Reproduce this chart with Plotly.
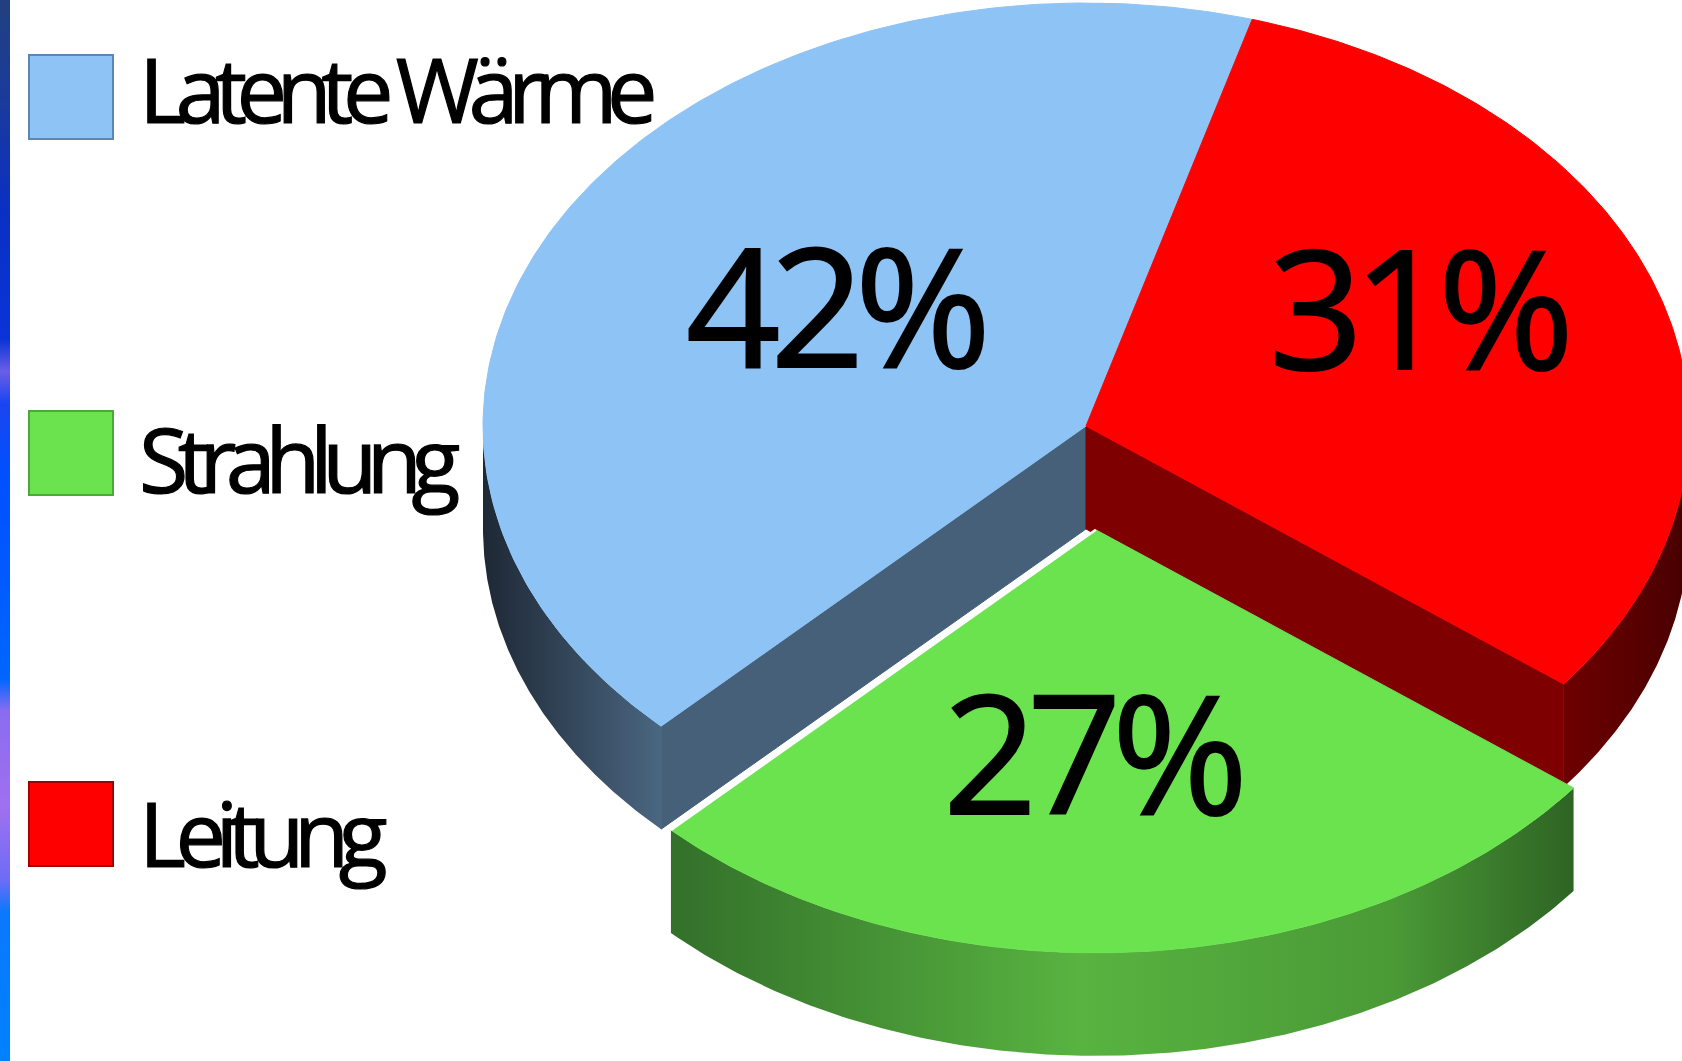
import numpy as np
import plotly.graph_objects as go

# ---- data -------------------------------------------------------------
categories = ["Latente Wärme", "Strahlung", "Leitung"]
shares = [42, 27, 31]                      # percent
pct_labels = [f"{v}%" for v in shares]

# ---- styling ------------------------------------------------------------
top_colors = ["#8EC3F5", "#6BE34F", "#FF0000"]
face_colors = ["#46607A", "#3E7A2E", "#7F0000"]          # flat radial cut faces
wall_scales = [
    [[0, "#1E2835"], [1, "#4A6681"]],
    [[0, "#33702A"], [0.45, "#58B340"], [0.8, "#4A9A36"], [1, "#2E6424"]],
    [[0, "#6E0000"], [1, "#480000"]],
]
legend_box_lines = ["#5A88B2", "#4CA83A", "#A00000"]
explode = [0.0, 0.246, 0.0]
label_nudge = [(9, -16), (-24, 9), (46, -55)]

W, H = 1682, 1061
CX, CY = 1086, 426          # centre of the top ellipse (px)
RX, RY = 603, 423           # ellipse half axes (px)
DEPTH = 103                 # thickness of the disc (px)
START = 74.0                # angle of the first slice edge, counter-clockwise

legend_rows = [91, 461, 835]   # vertical centre of each legend row
legend_box_y = [97, 453, 824]
LEGEND_BOX_X = 71
LEGEND_TEXT_X = 137

LABEL_STYLE = "letter-spacing:-10px;stroke:black;stroke-width:2px"
LEGEND_STYLE = "letter-spacing:-10.5px;stroke:black;stroke-width:1.2px"

# ---- geometry ---------------------------------------------------------
total = float(sum(shares))
spans = [360.0 * v / total for v in shares]
edges = START + np.concatenate([[0.0], np.cumsum(spans)])


def rim(theta_deg, ox, oy, dz=0.0):
    t = np.radians(theta_deg)
    return ox + RX * np.cos(t), oy - RY * np.sin(t) + dz


def arc(t0, t1, ox, oy, dz=0.0, n=200):
    th = np.linspace(t0, t1, n)
    return rim(th, ox, oy, dz)


slices = []
for i in range(len(shares)):
    t0, t1 = edges[i], edges[i + 1]
    mid = 0.5 * (t0 + t1)
    m = np.radians(mid)
    ox = CX + RX * explode[i] * np.cos(m)
    oy = CY - RY * explode[i] * np.sin(m)
    slices.append(dict(t0=t0, t1=t1, mid=mid, ox=ox, oy=oy))

fig = go.Figure()


def poly(xs, ys, color=None, scale=None, orient="horizontal", start=None, stop=None):
    kw = dict(x=list(xs), y=list(ys), mode="lines", fill="toself",
              hoverinfo="skip", showlegend=False)
    if scale is not None:
        kw["fillgradient"] = dict(type=orient, colorscale=scale,
                                  start=start, stop=stop)
        kw["line"] = dict(width=0, color="rgba(0,0,0,0)")
    else:
        kw["fillcolor"] = color
        kw["line"] = dict(width=1, color=color)
    fig.add_trace(go.Scatter(**kw))


def visible_wall(t0, t1):
    """Part of [t0, t1] on the front half of the ellipse."""
    out = []
    for lo, hi in [(180, 360), (540, 720)]:
        a, b = max(t0, lo), min(t1, hi)
        if b > a:
            out.append((a, b))
    return out


def draw_sides(idx):
    s = slices[idx]
    # radial cut faces that are exposed towards the viewer
    n = len(slices)
    for t, normal, nb in [(s["t0"], s["t0"] - 90, (idx - 1) % n),
                          (s["t1"], s["t1"] + 90, (idx + 1) % n)]:
        if np.sin(np.radians(normal)) >= 0:
            continue
        if explode[nb] == explode[idx]:
            continue
        ex, ey = rim(t, s["ox"], s["oy"])
        xs = [s["ox"], ex, ex, s["ox"], s["ox"]]
        ys = [s["oy"], ey, ey + DEPTH, s["oy"] + DEPTH, s["oy"]]
        poly(xs, ys, color=face_colors[idx])
    # outer curved wall
    for a, b in visible_wall(s["t0"], s["t1"]):
        xt, yt = arc(a, b, s["ox"], s["oy"])
        xb, yb = arc(b, a, s["ox"], s["oy"], DEPTH)
        xs = np.concatenate([xt, xb, xt[:1]])
        ys = np.concatenate([yt, yb, yt[:1]])
        poly(xs, ys, scale=wall_scales[idx], start=float(xs.min()),
             stop=float(xs.max()))


def draw_top(idx):
    s = slices[idx]
    xa, ya = arc(s["t0"], s["t1"], s["ox"], s["oy"])
    xs = np.concatenate([[s["ox"]], xa, [s["ox"]]])
    ys = np.concatenate([[s["oy"]], ya, [s["oy"]]])
    poly(xs, ys, color=top_colors[idx])


# decorative gradient strip on the left edge
strip_scale = [
    [0.00, "#22407E"], [0.10, "#1A3A9E"], [0.20, "#0A2FC4"], [0.32, "#0A34D8"],
    [0.35, "#6A5EE8"], [0.38, "#1A45F0"], [0.45, "#0050FF"], [0.64, "#0066FF"],
    [0.67, "#8A6CF0"], [0.76, "#A070F0"], [0.83, "#6C6CF6"], [0.86, "#0A78FF"],
    [1.00, "#0082FF"],
]
poly([0, 10, 10, 0, 0], [0, 0, H, H, 0], scale=strip_scale, orient="vertical",
     start=0, stop=H)

# back-to-front: slices that stay in place, then the pulled-out one
order = sorted(range(len(shares)), key=lambda k: explode[k])
still = [k for k in order if explode[k] == 0]
moved = [k for k in order if explode[k] != 0]
for k in still:
    draw_sides(k)
for k in still:
    draw_top(k)
for k in moved:
    draw_sides(k)
    draw_top(k)
    s = slices[k]
    # thin white seam along the upper-left edge of the pulled-out slice
    ex, ey = rim(s["t0"], s["ox"], s["oy"])
    fig.add_trace(go.Scatter(x=[ex, s["ox"]], y=[ey, s["oy"]], mode="lines",
                             line=dict(color="white", width=2.5),
                             hoverinfo="skip", showlegend=False))

# percentage labels on the top faces
for i, s in enumerate(slices):
    m = np.radians(s["mid"])
    lx = s["ox"] + 0.5 * RX * np.cos(m) + label_nudge[i][0]
    ly = s["oy"] - 0.5 * RY * np.sin(m) + label_nudge[i][1]
    fig.add_annotation(
        x=lx, y=ly, xref="x", yref="y", showarrow=False,
        xanchor="center", yanchor="middle",
        text=f'<span style="{LABEL_STYLE}">{pct_labels[i]}</span>',
        font=dict(family="Open Sans", size=165, color="black"),
    )

# legend: coloured squares with names
fig.add_trace(go.Scatter(
    x=[LEGEND_BOX_X] * len(categories), y=legend_box_y, mode="markers",
    marker=dict(symbol="square", size=84, color=top_colors,
                line=dict(color=legend_box_lines, width=2)),
    hoverinfo="skip", showlegend=False))
for i, name in enumerate(categories):
    fig.add_annotation(
        x=LEGEND_TEXT_X, y=legend_rows[i] - 3, xref="x", yref="y",
        showarrow=False, xanchor="left", yanchor="middle",
        text=f'<span style="{LEGEND_STYLE}">{name}</span>',
        font=dict(family="Open Sans", size=90, color="black"),
    )

fig.update_layout(
    width=W, height=H, margin=dict(l=0, r=0, t=0, b=0, pad=0),
    paper_bgcolor="white", plot_bgcolor="white", showlegend=False,
    xaxis=dict(range=[0, W], visible=False, fixedrange=True),
    yaxis=dict(range=[H, 0], visible=False, fixedrange=True),
)

fig.write_html("out.html", config={"displayModeBar": False})
